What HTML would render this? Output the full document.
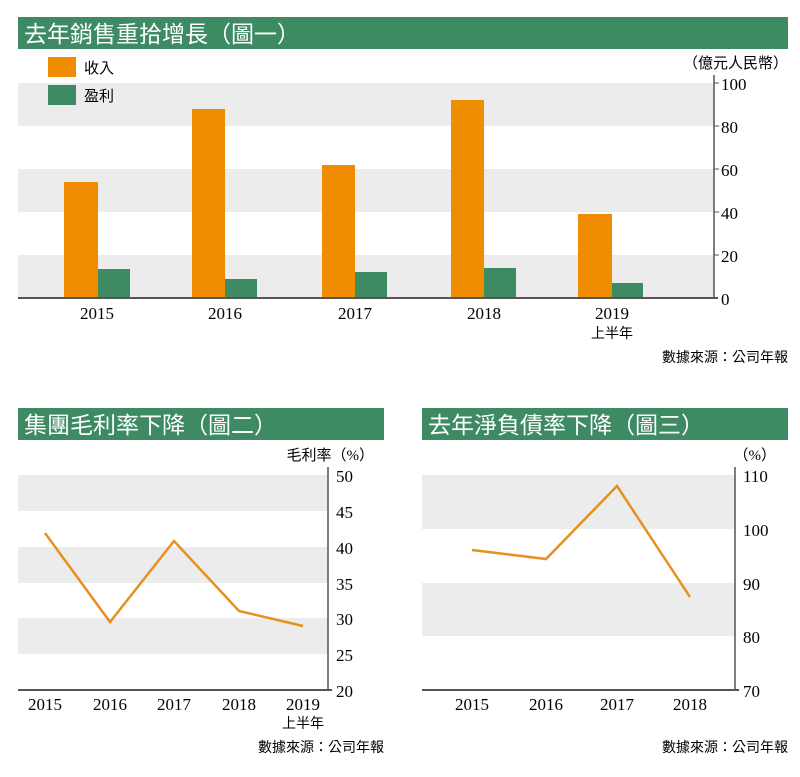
<!DOCTYPE html>
<html><head><meta charset="utf-8"><style>
body{margin:0;background:#fff;width:800px;height:772px;overflow:hidden}
svg text{font-family:"Liberation Serif","Noto Serif CJK SC",serif}
.c{font-family:"Liberation Serif","Noto Sans CJK TC",serif}
</style></head><body>
<svg width="800" height="772" xmlns="http://www.w3.org/2000/svg">
<!-- chart 1 -->
<rect x="18" y="17" width="770" height="32" fill="#3d8a63"/>
<text x="24" y="42" font-size="23" fill="#fff" class="c">去年銷售重拾增長（圖一）</text>
<rect x="18" y="83" width="696" height="43" fill="#ececec"/>
<rect x="18" y="169" width="696" height="43" fill="#ececec"/>
<rect x="18" y="255" width="696" height="43" fill="#ececec"/>
<rect x="48" y="57" width="28" height="20" fill="#ef8c00"/>
<rect x="48" y="85" width="28" height="20" fill="#3d8a63"/>
<text x="84" y="73" font-size="15" class="c">收入</text>
<text x="84" y="101" font-size="15" class="c">盈利</text>
<text x="788" y="68" font-size="15" text-anchor="end" class="c">（億元人民幣）</text>
<g fill="#ef8c00">
<rect x="64" y="182" width="34" height="116"/>
<rect x="192" y="109" width="33" height="189"/>
<rect x="322" y="165" width="33" height="133"/>
<rect x="451" y="100" width="33" height="198"/>
<rect x="578" y="214" width="34" height="84"/>
</g>
<g fill="#3d8a63">
<rect x="98" y="269" width="32" height="29"/>
<rect x="225" y="279" width="32" height="19"/>
<rect x="355" y="272" width="32" height="26"/>
<rect x="484" y="268" width="32" height="30"/>
<rect x="612" y="283" width="31" height="15"/>
</g>
<line x1="18" y1="298" x2="718" y2="298" stroke="#555" stroke-width="2"/>
<line x1="714" y1="75" x2="714" y2="299" stroke="#555" stroke-width="1.5"/>
<g font-size="17" text-anchor="start">
<text x="721" y="90">100</text><text x="721" y="133">80</text><text x="721" y="176">60</text><text x="721" y="219">40</text><text x="721" y="262">20</text><text x="721" y="305">0</text>
</g>
<g stroke="#555"><line x1="714" y1="83" x2="719" y2="83"/><line x1="714" y1="126" x2="719" y2="126"/><line x1="714" y1="169" x2="719" y2="169"/><line x1="714" y1="212" x2="719" y2="212"/><line x1="714" y1="255" x2="719" y2="255"/></g>
<g font-size="17" text-anchor="middle">
<text x="97" y="319">2015</text><text x="225" y="319">2016</text><text x="355" y="319">2017</text><text x="484" y="319">2018</text><text x="612" y="319">2019</text>
</g>
<text x="612" y="338" font-size="14" text-anchor="middle" class="c">上半年</text>
<text x="788" y="362" font-size="14" text-anchor="end" class="c">數據來源：公司年報</text>

<!-- chart 2 -->
<rect x="18" y="408" width="366" height="32" fill="#3d8a63"/>
<text x="24" y="433" font-size="23" fill="#fff" class="c">集團毛利率下降（圖二）</text>
<rect x="18" y="475" width="310" height="36" fill="#ececec"/>
<rect x="18" y="547" width="310" height="36" fill="#ececec"/>
<rect x="18" y="618" width="310" height="36" fill="#ececec"/>
<text x="374" y="460" font-size="15" text-anchor="end" class="c">毛利率（%）</text>
<polyline points="45,533 110,622 174,541 239,611 303,626" fill="none" stroke="#e8901e" stroke-width="2.5"/>
<line x1="18" y1="690" x2="332" y2="690" stroke="#555" stroke-width="2"/>
<line x1="328" y1="467" x2="328" y2="691" stroke="#555" stroke-width="1.5"/>
<g font-size="17"><text x="336" y="482">50</text><text x="336" y="518">45</text><text x="336" y="554">40</text><text x="336" y="590">35</text><text x="336" y="625">30</text><text x="336" y="661">25</text><text x="336" y="697">20</text></g>
<g font-size="17" text-anchor="middle"><text x="45" y="710">2015</text><text x="110" y="710">2016</text><text x="174" y="710">2017</text><text x="239" y="710">2018</text><text x="303" y="710">2019</text></g>
<text x="303" y="728" font-size="14" text-anchor="middle" class="c">上半年</text>
<text x="384" y="752" font-size="14" text-anchor="end" class="c">數據來源：公司年報</text>

<!-- chart 3 -->
<rect x="422" y="408" width="366" height="32" fill="#3d8a63"/>
<text x="428" y="433" font-size="23" fill="#fff" class="c">去年淨負債率下降（圖三）</text>
<rect x="422" y="475" width="313" height="54" fill="#ececec"/>
<rect x="422" y="583" width="313" height="53" fill="#ececec"/>
<text x="776" y="460" font-size="15" text-anchor="end" class="c">（%）</text>
<polyline points="472,550 546,559 617,486 690,597" fill="none" stroke="#e8901e" stroke-width="2.5"/>
<line x1="422" y1="690" x2="739" y2="690" stroke="#555" stroke-width="2"/>
<line x1="735" y1="467" x2="735" y2="691" stroke="#555" stroke-width="1.5"/>
<g font-size="17"><text x="743" y="482">110</text><text x="743" y="536">100</text><text x="743" y="590">90</text><text x="743" y="643">80</text><text x="743" y="697">70</text></g>
<g font-size="17" text-anchor="middle"><text x="472" y="710">2015</text><text x="546" y="710">2016</text><text x="617" y="710">2017</text><text x="690" y="710">2018</text></g>
<text x="788" y="752" font-size="14" text-anchor="end" class="c">數據來源：公司年報</text>
</svg>
</body></html>
